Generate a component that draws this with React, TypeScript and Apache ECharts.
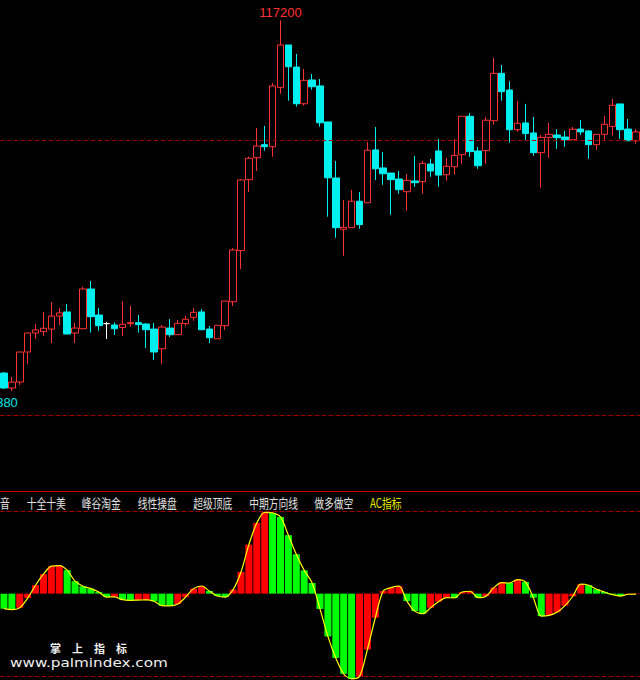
import React, { useEffect, useRef } from 'react';
import * as echarts from 'echarts';

// ---- Price data (one entry per candle, left to right) ----
const OPEN = [
  96430, 95550, 95900, 97670, 98790, 98870, 99020, 99790, 100030, 98790,
  99040, 101380, 99850, 99340, 99260, 99120, 99340, 99400, 99320, 99020,
  97860, 99080, 98690, 99340, 99710, 100030, 99020, 98450, 99220, 100630,
  103650, 107820, 109110, 109880, 109760, 113240, 115750, 114450, 112290, 113690,
  113340, 111220, 107920, 104900, 104990, 106550, 106460, 109570, 108510, 108210,
  107860, 107110, 107740, 107700, 108740, 109510, 108110, 108580, 109290, 111550,
  109510, 109530, 111290, 114080, 113100, 110760, 111160, 110570, 109410, 110310,
  110450, 110330, 110170, 110800, 110690, 109880, 110490, 110960, 112280, 110800,
  110110,
];
const CLOSE = [
  95550, 95900, 97670, 98790, 98970, 99070, 99790, 99970, 98730, 99080,
  101380, 99750, 99220, 99340, 99040, 99300, 99400, 99280, 98980, 97670,
  99140, 98690, 99360, 99600, 100010, 98980, 98510, 99240, 100670, 103680,
  107800, 109080, 109800, 109760, 113340, 115750, 114470, 112290, 113670, 113290,
  111170, 107930, 104990, 105010, 106550, 105170, 109550, 108460, 108170, 107820,
  107230, 107780, 107640, 108780, 108330, 108090, 108610, 109250, 111550, 109470,
  108640, 111320, 114080, 113000, 110760, 111140, 110530, 109410, 110310, 110490,
  110290, 110170, 110790, 110630, 109880, 110490, 111080, 112200, 110760, 110110,
  110630,
];
const LOW = [
  95490, 95380, 95730, 96960, 98440, 98630, 98200, 99260, 98730, 98200,
  99020, 98810, 98920, 98440, 98670, 98630, 99160, 98810, 97910, 97200,
  96960, 98550, 98670, 99220, 99510, 98980, 98200, 98450, 98970, 100380,
  102560, 107090, 108330, 109530, 109170, 112880, 112470, 112120, 112180, 113120,
  110940, 105640, 104400, 103340, 104990, 104930, 106460, 107800, 107520, 105760,
  106990, 105990, 107400, 106990, 107990, 107400, 107760, 108110, 108760, 109170,
  108460, 108760, 111060, 112470, 110000, 110640, 110110, 109230, 107350, 109110,
  109640, 109760, 110170, 110450, 109050, 109580, 110170, 110430, 110210, 110110,
  109940,
];
const HIGH = [
  96490, 96200, 97670, 98790, 99320, 100030, 100610, 100260, 100500, 99380,
  101500, 101850, 100260, 99440, 99420, 100670, 100380, 99850, 99380, 99380,
  99260, 99610, 99550, 99790, 100260, 100200, 99200, 99240, 100670, 103790,
  107860, 109170, 110860, 110980, 113510, 117200, 115750, 115220, 114340, 114040,
  113750, 111220, 108920, 106620, 107210, 107090, 110040, 110920, 109450, 108210,
  108330, 108150, 109210, 108920, 109040, 110210, 109100, 110210, 111550, 111750,
  109740, 111510, 114980, 114570, 113610, 112450, 112280, 111510, 110450, 111160,
  110800, 110690, 110920, 111330, 110740, 110490, 111570, 112570, 112280, 111390,
  110800,
];
// ---- AC indicator values ----
const AC = [
  -750, -800, -700, -220, 420, 970, 1370, 1400, 1170, 620,
  370, 250, 80, -170, -160, -300, -330, -320, -310, -380,
  -600, -610, -520, -170, 250, 380, 130, -120, -170, 200,
  1080, 2440, 3520, 4050, 4020, 3820, 2910, 1960, 1160, 530,
  -760, -2130, -3200, -3990, -4240, -4120, -2780, -1200, 130, 300,
  370, -370, -870, -1000, -700, -400, -200, -210, 80, 120,
  -200, -130, 300, 550, 530, 700, 580, -200, -1120, -1080,
  -930, -600, -130, 470, 420, 220, 80, -50, -120, -30,
  -20,
];
const GUIDE_PRICE = 110140;
const PRICE_MIN = 93960;
const PRICE_MAX = 118400;
const AC_MIN = -4100;
const AC_MAX = 4100;
const TABS = ['音', '十全十美', '峰谷淘金', '线性操盘', '超级顶底', '中期方向线', '做多做空', 'AC指标'];
const ACTIVE_TAB = 'AC指标';
const WATERMARK_TITLE = '掌　上　指　标';
const WATERMARK_URL = 'www.palmindex.com';

const CATEGORIES = OPEN.map((_, i) => `K${i + 1}`);

// layout (pixels)
const TAB_X = [0, 26.7, 81.7, 137.7, 193.3, 249.3, 314.3, 370];

const UP = '#ff3232';
const DOWN = '#00f0f0';
const DASH = '#a00000';

export default function App() {
  const ref = useRef<HTMLDivElement>(null);
  useEffect(() => {
    document.body.style.margin = '0';
    const chart = echarts.init(ref.current!, undefined, { renderer: 'svg' });
    const candles = OPEN.map((o, i) => [o, CLOSE[i], LOW[i], HIGH[i]]);
    let hi = 0;
    let lo = 0;
    HIGH.forEach((v, i) => { if (v > HIGH[hi]) hi = i; });
    LOW.forEach((v, i) => { if (v < LOW[lo]) lo = i; });
    const axisLine = { show: true, onZero: false, lineStyle: { color: DASH, type: [4, 3], width: 1 } };
    const hiddenParts = { axisTick: { show: false }, axisLabel: { show: false }, splitLine: { show: false } };
    const option: any = {
      animation: false,
      backgroundColor: '#000',
      grid: [
        { left: -5.5, width: 648, top: 0, height: 415 },
        { left: -5.5, width: 648, top: 511.3, height: 164.7 },
      ],
      xAxis: [
        { type: 'category', gridIndex: 0, data: CATEGORIES, axisLine, ...hiddenParts },
        { type: 'category', gridIndex: 1, data: CATEGORIES, position: 'bottom', axisLine, ...hiddenParts },
        { type: 'category', gridIndex: 1, data: CATEGORIES, position: 'top', axisLine, ...hiddenParts },
      ],
      yAxis: [
        { type: 'value', gridIndex: 0, min: PRICE_MIN, max: PRICE_MAX, show: false },
        { type: 'value', gridIndex: 1, min: AC_MIN, max: AC_MAX, show: false },
      ],
      series: [
        {
          type: 'candlestick',
          xAxisIndex: 0,
          yAxisIndex: 0,
          data: candles,
          barWidth: 7,
          itemStyle: {
            color: '#000000',
            color0: DOWN,
            borderColor: UP,
            borderColor0: DOWN,
            borderColorDoji: '#ffffff',
            borderWidth: 1,
          },
          markLine: {
            silent: true,
            symbol: 'none',
            label: { show: false },
            lineStyle: { color: DASH, type: [4, 3], width: 1 },
            data: [{ yAxis: GUIDE_PRICE }],
          },
          markPoint: {
            silent: true,
            symbol: 'circle',
            symbolSize: 0,
            label: { show: true, fontSize: 13, fontFamily: 'Liberation Sans', formatter: '{c}' },
            data: [
              {
                coord: [CATEGORIES[hi], HIGH[hi]],
                value: HIGH[hi],
                label: { position: 'top', distance: 1, color: UP },
              },
              {
                coord: [CATEGORIES[lo], LOW[lo]],
                value: LOW[lo],
                label: { position: 'bottom', distance: 5, color: '#00e0e0', align: 'right', offset: [6, 0] },
              },
            ],
          },
        },
        {
          type: 'bar',
          xAxisIndex: 1,
          yAxisIndex: 1,
          barWidth: 7,
          clip: false,
          data: AC.map((v, i) => ({
            value: v,
            itemStyle: { color: i > 0 && v > AC[i - 1] ? '#ff0000' : '#00ff00' },
          })),
        },
        {
          type: 'line',
          xAxisIndex: 1,
          yAxisIndex: 1,
          data: AC,
          symbol: 'none',
          smooth: 0.3,
          clip: false,
          z: 5,
          lineStyle: { color: '#ffff00', width: 1.2 },
        },
      ],
      graphic: [
        { type: 'line', shape: { x1: 0, y1: 491.5, x2: 640, y2: 491.5 }, style: { stroke: '#d00000', lineWidth: 1 } },
        ...TABS.map((t, i) => ({
          type: 'text',
          x: TAB_X[i],
          y: 502,
          scaleX: 0.75,
          style: {
            text: t,
            fill: t === ACTIVE_TAB ? '#e8e800' : '#e0e0e0',
            font: '13px "Noto Sans CJK SC"',
            verticalAlign: 'middle',
            align: 'left',
          },
        })),
        {
          type: 'text',
          x: 50,
          y: 647.5,
          style: { text: WATERMARK_TITLE, fill: '#f0f0f0', font: 'bold 11px "Noto Sans CJK SC"', verticalAlign: 'middle', align: 'left' },
        },
        {
          type: 'text',
          x: 10,
          y: 662.5,
          scaleX: 1.27,
          style: { text: WATERMARK_URL, fill: '#f0f0f0', font: '12px "DejaVu Sans"', verticalAlign: 'middle', align: 'left' },
        },
      ],
    };
    chart.setOption(option);
    return () => chart.dispose();
  }, []);
  return (
    <div
      ref={ref}
      style={{ position: 'absolute', left: 0, top: 0, width: 640, height: 680, background: '#000' }}
    />
  );
}
